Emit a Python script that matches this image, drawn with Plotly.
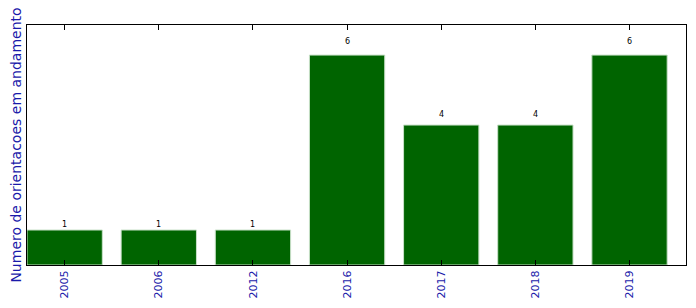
import plotly.graph_objects as go

years = ["2005", "2006", "2012", "2016", "2017", "2018", "2019"]
counts = [1, 1, 1, 6, 4, 4, 6]

fig = go.Figure()
fig.add_trace(go.Bar(
    x=list(range(len(years))), y=counts, width=0.8,
    marker=dict(color="#006400", line=dict(color="#c8e0c8", width=1)),
    hoverinfo="skip",
))
for i, v in enumerate(counts):
    fig.add_annotation(x=i, y=v * 1.05, text=str(v), showarrow=False,
                       yanchor="bottom", xanchor="center", yshift=-3,
                       font=dict(size=8, color="black", family="DejaVu Sans"))

fig.update_layout(
    width=696, height=308,
    margin=dict(l=27, r=10, t=25, b=43),
    plot_bgcolor="white", paper_bgcolor="white",
    showlegend=False,
    font=dict(family="DejaVu Sans"),
)
fig.update_xaxes(
    range=[-0.4, 6.6], tickmode="array", tickvals=list(range(len(years))),
    ticktext=years, tickangle=-90, ticks="inside", ticklen=5, tickcolor="black",
    showline=True, linecolor="black", linewidth=1, mirror="ticks",
    showgrid=False, zeroline=False,
    tickfont=dict(size=11, color="#1a1aaa", family="DejaVu Sans"),
)
fig.update_yaxes(
    range=[0, 6.86], showticklabels=False, ticks="",
    showline=True, linecolor="black", linewidth=1, mirror=True,
    showgrid=False, zeroline=False,
    title=dict(text="Numero de orientacoes em andamento", standoff=1,
               font=dict(size=14, color="#1a1aaa", family="DejaVu Sans")),
)
fig.write_html("out.html")
